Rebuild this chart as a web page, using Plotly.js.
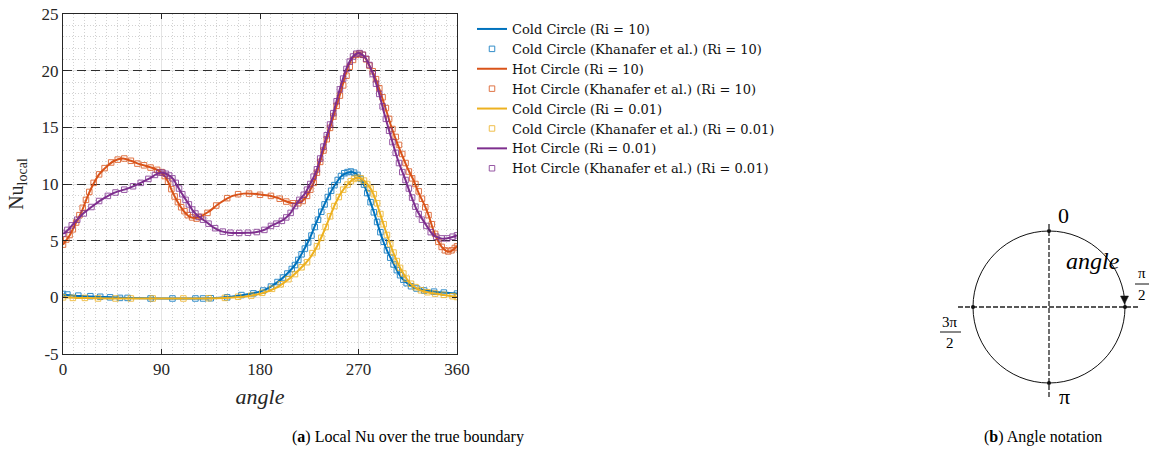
<!DOCTYPE html>
<html>
<head>
<meta charset="utf-8">
<script src="https://cdn.plot.ly/plotly-3.0.1.min.js"></script>
<style>
html,body{margin:0;padding:0;background:#fff}
#chart{width:1154px;height:452px}
.scatterlayer .trace:nth-child(-n+4) .js-line{shape-rendering:crispEdges}
</style>
</head>
<body>
<div id="chart"></div>
<script>
// ---------- data ----------
const seriesNames = [
  "Cold Circle (Ri = 10)", "Cold Circle (Khanafer et al.) (Ri = 10)",
  "Hot Circle (Ri = 10)", "Hot Circle (Khanafer et al.) (Ri = 10)",
  "Cold Circle (Ri = 0.01)", "Cold Circle (Khanafer et al.) (Ri = 0.01)",
  "Hot Circle (Ri = 0.01)", "Hot Circle (Khanafer et al.) (Ri = 0.01)"
];
const xTickVals = [0, 90, 180, 270, 360];
const yTickVals = [-5, 0, 5, 10, 15, 20, 25];
const yTickText = ["-5", "0", "5", "10", "15", "20", "25"];
const refLevels = [5, 10, 15, 20];
const refSpan = [0, 360];

// Cold circle, Ri = 10 (present)
const coldRi10Angle = [0,10,20,30,45,60,90,120,140,150,160,170,180,190,200,207,213,219,225,231,237,243,249,255,260,264,268,272,276,280,284,288,292,296,300,305,310,315,320,330,340,350,360];
const coldRi10Nu    = [0.25,0.15,0.1,0.05,0.0,-0.05,-0.1,-0.1,-0.05,0.02,0.15,0.3,0.5,0.95,1.65,2.3,3.0,4.0,5.1,6.5,7.8,9.0,10.0,10.75,11.0,11.05,10.9,10.45,9.7,8.65,7.55,6.3,5.1,4.15,3.35,2.4,1.65,1.2,0.9,0.62,0.5,0.4,0.33];
// Cold circle, Ri = 10 (Khanafer et al.)
const coldRi10RefAngle = [0,4,14,25,34,43,52,59,80,100,121,128,135,150,163,174,183,190,196,201,205,209,212,215,218,221,224,227,230,233,236,239,242,245,248,251,254,257,260,263,266,269,272,275,278,281,284,287,290,293,296,299,302,305,308,311,314,318,323,330,339,348,360];
const coldRi10RefNu    = [0.3,0.25,0.15,0.1,0.05,0.0,-0.05,-0.05,-0.1,-0.1,-0.1,-0.1,-0.08,0.0,0.2,0.35,0.6,0.95,1.35,1.75,2.1,2.5,2.85,3.3,3.8,4.3,4.85,5.45,6.2,6.85,7.55,8.2,8.85,9.4,9.9,10.35,10.7,10.95,11.05,11.1,11.0,10.8,10.45,9.95,9.2,8.4,7.5,6.65,5.75,4.9,4.15,3.5,2.9,2.4,1.95,1.55,1.25,0.98,0.78,0.6,0.5,0.42,0.33];

// Hot circle, Ri = 10 (present)
const hotRi10Angle = [0,6,12,17,22,27.5,33,40,47,55,62,70,79,87,92,96,100,104,110,115,120,125,133,143,155,165,173,182,190,197,203,210,214,218,222,226,229,232,236,240,243,246,250,254,258,262,266,270,273,277,280,285,290,295,300,305,310,315,320,325,330,334,338,342,346,350,354,357,360];
const hotRi10Nu    = [4.65,5.45,6.6,7.55,8.8,9.95,10.85,11.55,12.05,12.25,12.05,11.75,11.5,11.2,10.8,10.2,9.3,8.55,7.65,7.15,7.0,7.1,7.55,8.3,8.95,9.15,9.15,9.05,8.95,8.75,8.5,8.3,8.3,8.45,8.85,9.5,10.1,11.0,12.3,13.6,14.6,15.6,16.9,18.2,19.6,20.7,21.3,21.55,21.45,21.0,20.4,19.45,18.1,16.6,15.05,13.7,12.5,11.35,10.4,9.2,8.2,7.25,6.05,5.1,4.45,4.1,4.05,4.25,4.5];
// Hot circle, Ri = 10 (Khanafer et al.)
const hotRi10RefAngle = [0,3,6,9,12,15,18,21,24,28,33,38,44,50,56,62,68,74,80,86,90,93,96,99,102,105,108,111,114,118,122,126,132,140,150,160,170,180,190,198,204,210,215,219,223,226,229,232,235,238,241,244,247,250,253,256,259,262,265,268,271,274,277,280,283,286,289,292,295,298,301,304,307,310,313,316,319,322,325,328,331,334,337,340,343,346,349,352,355,358,360];
const hotRi10RefNu    = [4.65,5.1,5.5,6.0,6.6,7.25,7.9,8.6,9.3,10.1,10.85,11.4,11.9,12.15,12.25,12.05,11.8,11.65,11.45,11.25,11.05,10.7,10.2,9.55,8.9,8.4,7.95,7.6,7.25,7.05,6.95,7.1,7.45,8.1,8.75,9.1,9.15,9.05,8.95,8.7,8.45,8.3,8.3,8.5,8.95,9.5,10.1,11.0,11.95,12.95,13.95,14.95,15.95,16.9,17.8,18.7,19.55,20.35,20.95,21.4,21.5,21.4,21.0,20.45,19.95,19.25,18.45,17.65,16.7,15.75,14.85,14.15,13.45,12.65,11.85,11.1,10.5,10.0,9.35,8.7,7.95,7.25,6.45,5.6,4.9,4.45,4.15,4.05,4.15,4.35,4.5];

// Cold circle, Ri = 0.01 (present)
const coldRi001Angle = [0,15,30,60,90,120,140,155,165,175,185,195,202,210,218,225,231,237,243,249,255,260,265,270,274,278,282,286,290,294,298,302,306,310,315,320,326,335,345,360];
const coldRi001Nu    = [0.0,-0.05,-0.08,-0.1,-0.1,-0.1,-0.08,-0.02,0.05,0.2,0.45,0.85,1.3,1.9,2.65,3.4,4.3,5.5,6.9,8.3,9.35,9.95,10.4,10.55,10.4,10.0,9.45,8.5,7.3,6.1,4.95,3.9,3.0,2.25,1.5,1.0,0.65,0.4,0.25,0.03];
// Cold circle, Ri = 0.01 (Khanafer et al.)
const coldRi001RefAngle = [0,9,20,32,48,62,82,110,133,148,160,172,182,191,199,206,212,218,223,228,232,236,240,244,248,252,256,260,263,266,269,272,275,278,281,284,287,290,293,296,299,302,305,308,311,314,318,322,327,333,340,348,356,360];
const coldRi001RefNu    = [0.0,-0.05,-0.05,-0.1,-0.1,-0.1,-0.1,-0.1,-0.08,-0.05,0.05,0.15,0.4,0.75,1.15,1.6,2.05,2.65,3.1,3.9,4.5,5.25,6.2,7.15,8.05,8.85,9.5,9.95,10.25,10.45,10.55,10.5,10.3,10.0,9.6,9.1,8.3,7.35,6.45,5.5,4.7,3.95,3.2,2.6,2.1,1.65,1.2,0.9,0.62,0.45,0.33,0.22,0.1,0.03];

// Hot circle, Ri = 0.01 (present)
const hotRi001Angle = [0,2,6,11,18,26,35,42,49,56,63,70,75,80,85,89,93,97,101,104,107,111,115,119,123,128,133,137,145,152,159,168,177,185,190,198,204,208,213,217,221,225,228,232,238,245.6,253,259,265,270,276,282,288,294,300.5,306.6,312,317.3,323.4,331,338.6,346.3,352.4,360];
const hotRi001Nu    = [5.62,5.7,6.1,6.65,7.35,7.97,8.6,9.0,9.3,9.5,9.75,10.05,10.3,10.55,10.85,11.0,10.95,10.75,10.4,9.9,9.4,8.8,8.2,7.6,7.2,6.85,6.5,6.2,5.82,5.7,5.68,5.7,5.76,6.0,6.3,6.65,7.05,7.45,8.2,8.7,9.15,9.85,10.4,11.3,13.3,15.77,18.4,20.2,21.27,21.56,21.2,20.0,18.27,16.06,13.86,11.94,10.6,9.15,7.68,6.5,5.47,5.18,5.23,5.47];
// Hot circle, Ri = 0.01 (Khanafer et al.)
const hotRi001RefAngle = [0,4,8,13,19,26,33,41,48,56,64,71,78,84,88,91,94,97,100,103,106,109,112,115,118,121,124,128,133,139,146,153,161,169,177,184,190,195,200,204,208,212,216,220,223,226,229,232,235,238,241,244,247,250,253,256,259,262,265,268,271,274,277,280,283,286,289,292,295,298,301,304,307,310,313,316,319,322,325,328,332,336,341,346,351,356,360];
const hotRi001RefNu    = [5.62,5.95,6.35,6.85,7.4,7.97,8.5,8.95,9.25,9.5,9.8,10.1,10.45,10.8,11.0,11.0,10.9,10.75,10.5,10.1,9.6,9.1,8.6,8.2,7.75,7.4,7.1,6.85,6.5,6.1,5.8,5.7,5.68,5.7,5.76,5.95,6.3,6.5,6.75,7.05,7.45,8.05,8.6,9.05,9.5,10.0,10.65,11.3,12.25,13.3,14.3,15.25,16.25,17.3,18.35,19.3,20.15,20.8,21.25,21.5,21.55,21.4,21.05,20.5,19.7,18.85,17.95,16.85,15.75,14.7,13.7,12.75,11.85,11.05,10.35,9.6,8.8,8.0,7.35,6.85,6.3,5.75,5.35,5.2,5.2,5.35,5.47];

// ---------- styling ----------
const C_BLUE = "#0072BD", C_ORANGE = "#D95319", C_YELLOW = "#EDB120", C_PURPLE = "#7E2F8E";
const SERIF = "Liberation Serif, serif";
const LEG_FONT = "DejaVu Serif, serif";

function lineTrace(name, x, y, color) {
  return {type: "scatter", mode: "lines", name: name, x: x, y: y,
          line: {color: color, width: 2, shape: "spline", smoothing: 0.6}};
}
function refTrace(name, x, y, color) {
  return {type: "scatter", mode: "markers", name: name, x: x, y: y, opacity: 0.8,
          marker: {symbol: "square-open", size: 5.5, color: color, line: {width: 1, color: color}}};
}

// horizontal dashed reference lines (drawn first, beneath the curves)
const refLineTraces = refLevels.map(v => ({
  type: "scatter", mode: "lines", x: refSpan, y: [v, v], showlegend: false,
  hoverinfo: "skip", line: {color: "#2e2e2e", width: 1, dash: "9px,5px"}
}));

const traces = refLineTraces.concat([
  lineTrace(seriesNames[0], coldRi10Angle, coldRi10Nu, C_BLUE),
  refTrace(seriesNames[1], coldRi10RefAngle, coldRi10RefNu, C_BLUE),
  lineTrace(seriesNames[2], hotRi10Angle, hotRi10Nu, C_ORANGE),
  refTrace(seriesNames[3], hotRi10RefAngle, hotRi10RefNu, C_ORANGE),
  lineTrace(seriesNames[4], coldRi001Angle, coldRi001Nu, C_YELLOW),
  refTrace(seriesNames[5], coldRi001RefAngle, coldRi001RefNu, C_YELLOW),
  lineTrace(seriesNames[6], hotRi001Angle, hotRi001Nu, C_PURPLE),
  refTrace(seriesNames[7], hotRi001RefAngle, hotRi001RefNu, C_PURPLE)
]);

// plot area in page pixels
const PL = 63, PR = 457, PT = 14, PB = 354;
const M = {l: PL, r: 1154 - PR, t: PT, b: 452 - PB};
const px = v => (v - PL) / (PR - PL);   // page x -> paper
const py = v => (PB - v) / (PB - PT);   // page y -> paper

// angle-notation diagram (decorative)
const shapes = [];
const cx = 1049, cy = 307, rr = 76;
shapes.push({type: "circle", xref: "paper", yref: "paper",
  x0: px(cx - rr), x1: px(cx + rr), y0: py(cy + rr), y1: py(cy - rr),
  line: {color: "#111", width: 1}});
shapes.push({type: "line", xref: "paper", yref: "paper",
  x0: px(cx), x1: px(cx), y0: py(224), y1: py(397),
  line: {color: "#222", width: 1.3, dash: "5px,2px"}});
shapes.push({type: "line", xref: "paper", yref: "paper",
  x0: px(958), x1: px(1140), y0: py(cy), y1: py(cy),
  line: {color: "#222", width: 1.3, dash: "5px,2px"}});
[[cx, cy - rr], [cx + rr, cy], [cx - rr, cy], [cx, cy + rr]].forEach(p => {
  shapes.push({type: "circle", xref: "paper", yref: "paper",
    x0: px(p[0] - 2), x1: px(p[0] + 2), y0: py(p[1] + 2), y1: py(p[1] - 2),
    fillcolor: "#111", line: {color: "#111", width: 0}});
});
shapes.push({type: "path", xref: "paper", yref: "paper",
  path: `M ${px(1120.5)} ${py(296)} L ${px(1128.5)} ${py(296)} L ${px(1124.5)} ${py(304)} Z`,
  fillcolor: "#111", line: {color: "#111", width: 0.5}});
shapes.push({type: "line", xref: "paper", yref: "paper",
  x0: px(1135), x1: px(1149), y0: py(284), y1: py(284), line: {color: "#111", width: 1}});
shapes.push({type: "line", xref: "paper", yref: "paper",
  x0: px(940), x1: px(961), y0: py(332), y1: py(332), line: {color: "#111", width: 1}});

function ann(text, x, y, size, extra) {
  return Object.assign({text: text, xref: "paper", yref: "paper", x: px(x), y: py(y),
    xanchor: "center", yanchor: "middle", showarrow: false,
    font: {family: SERIF, size: size, color: "#000"}}, extra || {});
}
const annotations = [
  ann("0", 1063, 215, 22),
  ann("<i>angle</i>", 1093, 261, 24),
  ann("π", 1142, 273, 15),
  ann("2", 1142, 295, 15),
  ann("3π", 950, 322, 15),
  ann("2", 950, 343, 15),
  ann("π", 1064, 396, 22),
  ann("(<b>a</b>) Local Nu over the true boundary", 408, 437, 16),
  ann("(<b>b</b>) Angle notation", 1043, 437, 16)
];

const layout = {
  width: 1154, height: 452,
  margin: M,
  paper_bgcolor: "#fff", plot_bgcolor: "#fff",
  showlegend: true,
  legend: {x: px(472), y: 1.0, xanchor: "left", yanchor: "top",
           bgcolor: "rgba(0,0,0,0)", borderwidth: 0,
           font: {family: LEG_FONT, size: 13, color: "#111"}},
  xaxis: {
    range: [0, 360], tickmode: "array", tickvals: xTickVals,
    ticks: "inside", ticklen: 5, tickwidth: 1, tickcolor: "#262626",
    showline: true, linecolor: "#262626", linewidth: 1, mirror: "ticks",
    showgrid: true, gridcolor: "#e4e4e4", gridwidth: 1, zeroline: false,
    minor: {tickmode: "linear", tick0: 0, dtick: 10, showgrid: true,
            gridcolor: "#d2d2d2", griddash: "1px,2px", gridwidth: 1, ticks: ""},
    tickfont: {family: SERIF, size: 17, color: "#262626"},
    title: {text: "<i>angle</i>", font: {family: SERIF, size: 22, color: "#262626"}, standoff: 10}
  },
  yaxis: {
    range: [-5, 25], tickmode: "array", tickvals: yTickVals, ticktext: yTickText,
    ticks: "inside", ticklen: 5, tickwidth: 1, tickcolor: "#262626",
    showline: true, linecolor: "#262626", linewidth: 1, mirror: "ticks",
    showgrid: true, gridcolor: "#e4e4e4", gridwidth: 1, zeroline: false,
    minor: {tickmode: "linear", tick0: 0, dtick: 1, showgrid: true,
            gridcolor: "#d2d2d2", griddash: "1px,2px", gridwidth: 1, ticks: ""},
    tickfont: {family: SERIF, size: 17, color: "#262626"},
    title: {text: "Nu<sub>local</sub>", font: {family: SERIF, size: 20, color: "#262626"}, standoff: 12}
  },
  shapes: shapes,
  annotations: annotations
};

Plotly.newPlot("chart", traces, layout, {staticPlot: true, displayModeBar: false});
</script>
</body>
</html>
